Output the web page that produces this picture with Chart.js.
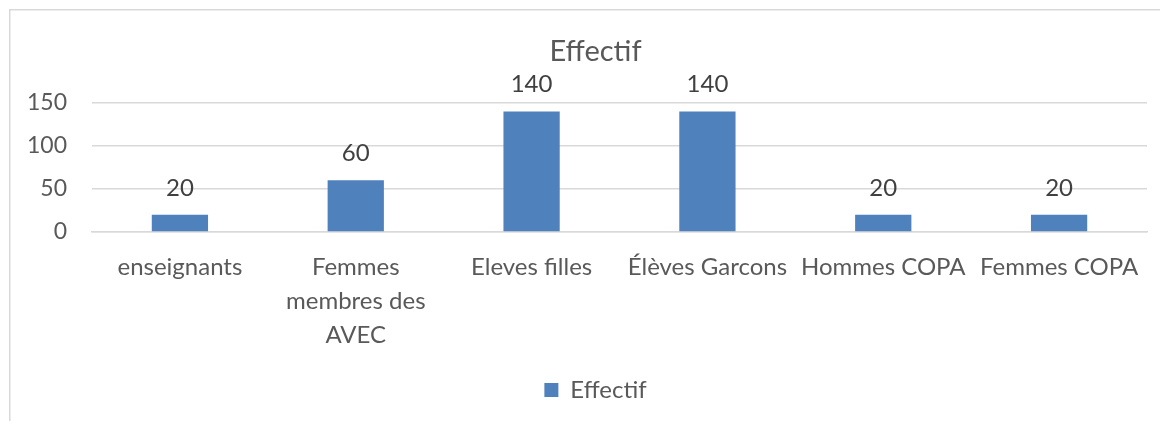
<!DOCTYPE html>
<html>
<head>
<meta charset="utf-8">
<script src="https://cdn.jsdelivr.net/npm/chart.js@4.4.1/dist/chart.umd.min.js"></script>
<style>
  html, body { margin: 0; padding: 0; background: #ffffff; }
  #wrap { width: 1160px; height: 421px; position: relative; }
</style>
</head>
<body>
<div id="wrap"><canvas id="c" width="1160" height="421"></canvas></div>
<script>
// Chart data
const categories = [
  "enseignants",
  ["Femmes", "membres des", "AVEC"],
  "Eleves filles",
  "Élèves Garcons",
  "Hommes COPA",
  "Femmes COPA"
];
const effectif = [20, 60, 140, 140, 20, 20];
const yTicks = [0, 50, 100, 150];
const seriesName = "Effectif";
const chartTitle = "Effectif";

const FONT = "Lato, 'Open Sans', sans-serif";
const TEXT = "#595959";
const BAR = "#4F81BD";
const GRID = "#d9d9d9";

// Light frame around the chart space
const framePlugin = {
  id: "frame",
  beforeDraw(chart) {
    const ctx = chart.ctx;
    ctx.save();
    ctx.fillStyle = "#ffffff";
    ctx.fillRect(0, 0, chart.width, chart.height);
    ctx.strokeStyle = GRID;
    ctx.lineWidth = 1.5;
    ctx.strokeRect(9.75, 9.75, chart.width + 20, chart.height + 20);
    ctx.restore();
  }
};

// Centre title and legend over the plot area rather than the full width
const centreOnPlot = {
  id: "centreOnPlot",
  afterLayout(chart) {
    const a = chart.chartArea;
    [chart.titleBlock, chart.legend].forEach(box => {
      if (!box) return;
      const w = box.right - box.left;
      const mid = (a.left + a.right) / 2 - 24;
      box.left = mid - w / 2;
      box.right = mid + w / 2;
    });
  }
};

// Value labels above each bar
const valueLabels = {
  id: "valueLabels",
  afterDatasetsDraw(chart) {
    const ctx = chart.ctx;
    const meta = chart.getDatasetMeta(0);
    const data = chart.data.datasets[0].data;
    ctx.save();
    ctx.font = "24px " + FONT;
    ctx.fillStyle = "#404040";
    ctx.textAlign = "center";
    ctx.textBaseline = "middle";
    meta.data.forEach((bar, i) => {
      ctx.fillText(String(data[i]), bar.x, bar.y - 27);
    });
    ctx.restore();
  }
};

new Chart(document.getElementById("c"), {
  type: "bar",
  data: {
    labels: categories,
    datasets: [{
      label: seriesName,
      data: effectif,
      backgroundColor: BAR,
      borderWidth: 0,
      categoryPercentage: 1,
      barPercentage: 0.32
    }]
  },
  options: {
    responsive: false,
    animation: false,
    devicePixelRatio: 1,
    layout: { padding: { left: 14, right: 13, top: 12, bottom: 9 } },
    plugins: {
      tooltip: { enabled: false },
      title: {
        display: true,
        text: chartTitle,
        color: TEXT,
        font: { family: FONT, size: 29, weight: "normal" },
        padding: { top: 22, bottom: 34 }
      },
      legend: {
        display: true,
        position: "bottom",
        labels: {
          color: TEXT,
          font: { family: FONT, size: 24 },
          boxWidth: 14,
          boxHeight: 14,
          padding: 10
        }
      }
    },
    scales: {
      x: {
        afterFit(scale) { scale.height = 136; },
        grid: { display: false, drawTicks: false },
        border: { display: true, color: GRID, width: 1.5 },
        ticks: {
          color: TEXT,
          font: { family: FONT, size: 24, lineHeight: 1.42 },
          padding: 18,
          maxRotation: 0,
          autoSkip: false
        }
      },
      y: {
        min: 0,
        max: 150,
        afterFit(scale) { scale.width = 78; },
        afterBuildTicks(scale) { scale.ticks = yTicks.map(v => ({ value: v })); },
        grid: { color: GRID, lineWidth: 1.5, drawTicks: false },
        border: { display: false },
        ticks: {
          color: TEXT,
          font: { family: FONT, size: 23 },
          padding: 25
        }
      }
    }
  },
  plugins: [framePlugin, centreOnPlot, valueLabels]
});
</script>
</body>
</html>
